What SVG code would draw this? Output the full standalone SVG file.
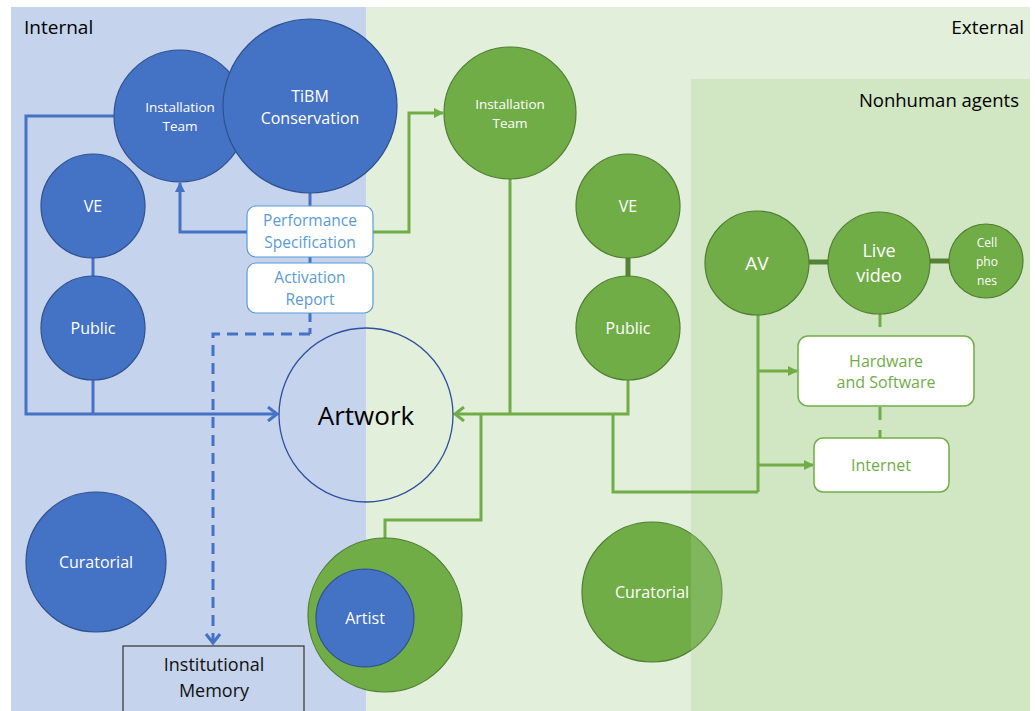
<svg xmlns="http://www.w3.org/2000/svg" width="1035" height="711" viewBox="0 0 1035 711">
  <defs>
    <style>
      text { font-family: "Open Sans", "Noto Sans", sans-serif; text-anchor: middle; }
      .lbl { fill: #ffffff; }
      .bnode { fill: #4472c4; stroke: #2f528f; stroke-width: 1.2; }
      .gnode { fill: #70ad47; stroke: #507e32; stroke-width: 1.2; }
      .bline { fill: none; stroke: #4472c4; stroke-width: 3; }
      .gline { fill: none; stroke: #70ad47; stroke-width: 3; }
      .dark { fill: none; stroke: #548235; stroke-width: 5; }
      .bbox { fill: #ffffff; stroke: #5b9bd5; stroke-width: 1.2; }
      .gbox { fill: #ffffff; stroke: #70ad47; stroke-width: 1.5; }
      .btxt { fill: #5b9bd5; font-size: 15.5px; }
      .gtxt { fill: #70ad47; font-size: 16px; }
    </style>
    <marker id="openB" markerUnits="userSpaceOnUse" markerWidth="14" markerHeight="16" refX="11" refY="8" orient="auto">
      <path d="M2,1 L11,8 L2,15" fill="none" stroke="#4472c4" stroke-width="3"/>
    </marker>
    <marker id="openG" markerUnits="userSpaceOnUse" markerWidth="14" markerHeight="16" refX="11" refY="8" orient="auto">
      <path d="M2,1 L11,8 L2,15" fill="none" stroke="#70ad47" stroke-width="3"/>
    </marker>
    <marker id="triB" markerUnits="userSpaceOnUse" markerWidth="10" markerHeight="10" refX="9" refY="5" orient="auto">
      <path d="M0,0 L10,5 L0,10 Z" fill="#4472c4"/>
    </marker>
    <marker id="triG" markerUnits="userSpaceOnUse" markerWidth="10" markerHeight="10" refX="9" refY="5" orient="auto">
      <path d="M0,0 L10,5 L0,10 Z" fill="#70ad47"/>
    </marker>
  </defs>

  <!-- page -->
  <rect x="0" y="0" width="1035" height="711" fill="#ffffff"/>
  <!-- internal / external regions -->
  <rect x="11" y="7" width="355" height="704" fill="#c5d3ec"/>
  <rect x="366" y="7" width="664" height="704" fill="#e2efda"/>
  <text x="24" y="34" style="font-size:19px;text-anchor:start" fill="#000">Internal</text>
  <text x="1024" y="34" style="font-size:19px;text-anchor:end" fill="#000">External</text>

  <!-- curatorial (external) sits beneath the nonhuman-agents panel -->
  <g id="curatorial-ext">
    <circle class="gnode" cx="652" cy="592" r="70"/>
    <text class="lbl" x="652" y="598" style="font-size:16px">Curatorial</text>
  </g>

  <!-- nonhuman agents panel -->
  <rect x="691" y="79" width="339" height="632" fill="#a9d18e" fill-opacity="0.3"/>
  <text x="1019" y="107" style="font-size:18.5px;text-anchor:end" fill="#000">Nonhuman agents</text>

  <!-- connectors -->
  <g id="connectors">
    <!-- internal -->
    <path class="bline" d="M114,116 H26 V414 H277" marker-end="url(#openB)"/>
    <path class="bline" d="M93,258 V414"/>
    <path class="bline" d="M310,193 V263"/>
    <path class="bline" d="M247,232 H180 V183" marker-end="url(#triB)"/>
    <path class="bline" d="M310,313 V334" stroke-dasharray="9,6"/>
    <path class="bline" d="M310,334 H213 V643" stroke-dasharray="11,7" marker-end="url(#openB)"/>
    <!-- external -->
    <path class="gline" d="M373,232 H409 V113 H443" marker-end="url(#triG)"/>
    <path class="gline" d="M510,179 V414"/>
    <path class="gline" d="M628,380 V414 H455" marker-end="url(#openG)"/>
    <path class="gline" d="M481,414 V520 H385 V538"/>
    <path class="gline" d="M613,414 V492 H758"/>
    <path class="dark" d="M628,258 V277"/>
    <path class="dark" d="M809,262 H828"/>
    <path class="dark" d="M930,261 H949"/>
    <path class="gline" d="M758,313 V492" stroke="#5f9a3a" stroke-width="3.5"/>
    <path class="gline" d="M758,371 H797" marker-end="url(#triG)" stroke-width="2"/>
    <path class="gline" d="M758,465 H813" marker-end="url(#triG)" stroke-width="2"/>
    <path class="gline" d="M880,314 V327" stroke-width="4"/>
    <path class="gline" d="M880,407 V420 M880,430 V438" stroke-width="4"/>
  </g>

  <!-- internal nodes -->
  <g id="inst-team-int">
    <circle class="bnode" cx="180" cy="116" r="66"/>
    <text class="lbl" x="180" y="112" style="font-size:13.5px">Installation</text>
    <text class="lbl" x="180" y="131" style="font-size:13.5px">Team</text>
  </g>
  <g id="tibm">
    <circle class="bnode" cx="310" cy="106" r="87"/>
    <text class="lbl" x="310" y="102" style="font-size:16px">TiBM</text>
    <text class="lbl" x="310" y="124" style="font-size:16px">Conservation</text>
  </g>
  <g id="ve-int">
    <circle class="bnode" cx="93" cy="206" r="52"/>
    <text class="lbl" x="93" y="212" style="font-size:16px">VE</text>
  </g>
  <g id="public-int">
    <circle class="bnode" cx="93" cy="328" r="52"/>
    <text class="lbl" x="93" y="334" style="font-size:16px">Public</text>
  </g>
  <g id="curatorial-int">
    <circle class="bnode" cx="96" cy="562" r="70"/>
    <text class="lbl" x="96" y="568" style="font-size:16px">Curatorial</text>
  </g>
  <g id="perf-spec">
    <rect class="bbox" x="247" y="206" width="126" height="51" rx="9"/>
    <text class="btxt" x="310" y="226">Performance</text>
    <text class="btxt" x="310" y="248">Specification</text>
  </g>
  <g id="activation">
    <rect class="bbox" x="247" y="263" width="126" height="50" rx="9"/>
    <text class="btxt" x="310" y="283">Activation</text>
    <text class="btxt" x="310" y="305">Report</text>
  </g>
  <g id="memory">
    <rect x="123" y="646" width="181" height="66" fill="none" stroke="#333333" stroke-width="1.2"/>
    <text x="214" y="671" style="font-size:18px" fill="#111">Institutional</text>
    <text x="214" y="697" style="font-size:18px" fill="#111">Memory</text>
  </g>

  <!-- artwork -->
  <g id="artwork">
    <circle cx="366" cy="415" r="87" fill="none" stroke="#2f4f9f" stroke-width="1.3"/>
    <text x="366" y="425" style="font-size:26px" fill="#000">Artwork</text>
  </g>

  <!-- external nodes -->
  <g id="inst-team-ext">
    <circle class="gnode" cx="510" cy="113" r="66"/>
    <text class="lbl" x="510" y="109" style="font-size:13.5px">Installation</text>
    <text class="lbl" x="510" y="128" style="font-size:13.5px">Team</text>
  </g>
  <g id="ve-ext">
    <circle class="gnode" cx="628" cy="206" r="52"/>
    <text class="lbl" x="628" y="212" style="font-size:16px">VE</text>
  </g>
  <g id="public-ext">
    <circle class="gnode" cx="628" cy="328" r="52"/>
    <text class="lbl" x="628" y="334" style="font-size:16px">Public</text>
  </g>
  <g id="artist">
    <circle class="gnode" cx="385" cy="615" r="77"/>
    <circle class="bnode" cx="365" cy="618" r="49"/>
    <text class="lbl" x="365" y="624" style="font-size:16px">Artist</text>
  </g>

  <!-- nonhuman agents -->
  <g id="av">
    <circle class="gnode" cx="757" cy="263" r="52"/>
    <text class="lbl" x="757" y="270" style="font-size:19px">AV</text>
  </g>
  <g id="live-video">
    <circle class="gnode" cx="879" cy="263" r="51"/>
    <text class="lbl" x="879" y="257" style="font-size:18px">Live</text>
    <text class="lbl" x="879" y="282" style="font-size:18px">video</text>
  </g>
  <g id="cell-phones">
    <circle class="gnode" cx="986" cy="261" r="37"/>
    <text class="lbl" x="987" y="247" style="font-size:12px">Cell</text>
    <text class="lbl" x="987" y="266" style="font-size:12px">pho</text>
    <text class="lbl" x="987" y="285" style="font-size:12px">nes</text>
  </g>
  <g id="hw-sw">
    <rect class="gbox" x="798" y="336" width="176" height="70" rx="10"/>
    <text class="gtxt" x="886" y="367">Hardware</text>
    <text class="gtxt" x="886" y="388">and Software</text>
  </g>
  <g id="internet">
    <rect class="gbox" x="814" y="438" width="135" height="54" rx="9"/>
    <text class="gtxt" x="881" y="471">Internet</text>
  </g>
</svg>
